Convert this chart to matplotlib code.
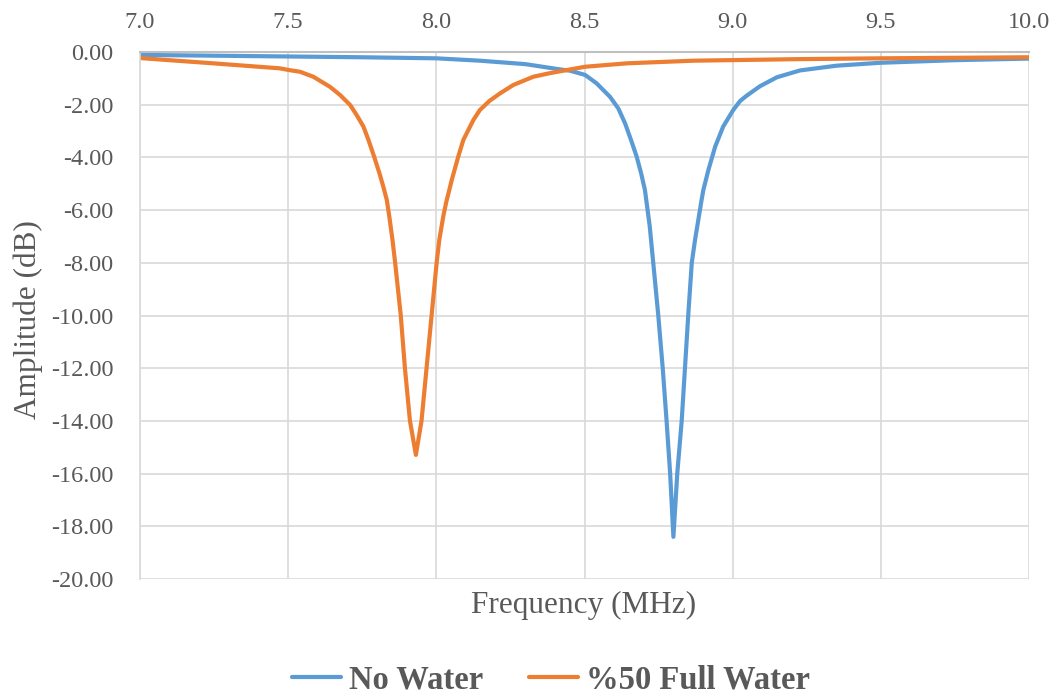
import matplotlib
matplotlib.use("Agg")
import matplotlib.pyplot as plt

# Frequency (MHz) and amplitude (dB)
no_water_freq = [7.00, 7.25, 7.50, 7.75, 8.00, 8.147, 8.30, 8.417, 8.451, 8.502, 8.541,
                 8.586, 8.614, 8.637, 8.657, 8.676, 8.691, 8.704, 8.720, 8.732, 8.749,
                 8.764, 8.777, 8.789, 8.800, 8.813, 8.828, 8.839, 8.850, 8.862, 8.873,
                 8.895, 8.901, 8.918, 8.941, 8.968, 9.002, 9.025, 9.047, 9.092, 9.149,
                 9.227, 9.35, 9.497, 9.75, 10.00]
no_water_amp = [-0.11, -0.14, -0.17, -0.20, -0.24, -0.33, -0.46, -0.66, -0.71, -0.87, -1.19,
                -1.70, -2.14, -2.71, -3.34, -3.97, -4.60, -5.24, -6.60, -8.00, -10.00,
                -12.00, -14.00, -16.00, -18.40, -16.00, -14.00, -12.00, -10.00, -8.00, -7.13,
                -5.62, -5.24, -4.48, -3.59, -2.83, -2.20, -1.86, -1.66, -1.30, -0.96,
                -0.70, -0.52, -0.41, -0.31, -0.25]

half_water_freq = [7.00, 7.247, 7.472, 7.50, 7.540, 7.585, 7.641, 7.675, 7.709, 7.731,
                   7.754, 7.771, 7.790, 7.808, 7.821, 7.833, 7.842, 7.852, 7.861, 7.880,
                   7.894, 7.911, 7.931, 7.950, 7.967, 7.984, 8.001, 8.010, 8.024, 8.035,
                   8.041, 8.052, 8.074, 8.091, 8.108, 8.125, 8.147, 8.18, 8.215, 8.26,
                   8.327, 8.38, 8.428, 8.502, 8.643, 8.867, 9.227, 9.497, 10.00]
half_water_amp = [-0.23, -0.43, -0.62, -0.68, -0.75, -0.94, -1.32, -1.63, -2.01, -2.39,
                  -2.83, -3.34, -3.97, -4.60, -5.11, -5.62, -6.30, -7.13, -8.00, -10.00,
                  -12.00, -14.00, -15.29, -14.00, -12.00, -10.00, -8.00, -7.13, -6.20, -5.62,
                  -5.36, -4.86, -3.97, -3.34, -2.96, -2.58, -2.20, -1.85, -1.57, -1.25,
                  -0.94, -0.81, -0.71, -0.56, -0.43, -0.33, -0.27, -0.24, -0.20]

x_ticks = [7.0, 7.5, 8.0, 8.5, 9.0, 9.5, 10.0]
y_ticks = [0, -2, -4, -6, -8, -10, -12, -14, -16, -18, -20]
series_names = ["No Water", "%50 Full Water"]

plt.rcParams['font.family'] = ['Liberation Serif', 'DejaVu Serif']
text_col = "#595959"

fig = plt.figure(figsize=(10.57, 6.95), dpi=100)
ax = fig.add_axes([140/1057, 1-579/695, (1029-140)/1057, (579-52)/695])

ax.plot(no_water_freq, no_water_amp, color="#5B9BD5", lw=3.0, label=series_names[0],
        solid_joinstyle="round", solid_capstyle="round")
ax.plot(half_water_freq, half_water_amp, color="#ED7D31", lw=3.0, label=series_names[1],
        solid_joinstyle="round", solid_capstyle="round")

ax.set_xlim(7.0, 10.0)
ax.set_ylim(-20, 0)
ax.set_xticks(x_ticks)
ax.set_xticklabels([f"{v:.1f}" for v in x_ticks])
ax.set_yticks(y_ticks)
ax.set_yticklabels([f"{v:.2f}" if v != 0 else "0.00" for v in y_ticks])
ax.xaxis.tick_top()
ax.tick_params(axis="both", length=0, labelsize=17.5, colors=text_col)
ax.tick_params(axis="x", pad=14)
ax.tick_params(axis="y", pad=19)

ax.grid(True, color="#d9d9d9", lw=1.2)
ax.set_axisbelow(True)
for s in ["right", "bottom"]:
    ax.spines[s].set_visible(False)
ax.spines["left"].set_color("#d9d9d9")
ax.spines["left"].set_linewidth(1.2)
ax.spines["top"].set_color("#bfbfbf")
ax.spines["top"].set_linewidth(1.5)

fig.text(28/1057, 1-320/695, "Amplitude (dB)", rotation=90, ha="center", va="center",
         fontsize=22.5, color=text_col)
fig.text(584/1057, 1-605/695, "Frequency (MHz)", ha="center", va="center",
         fontsize=22.5, color=text_col)

leg = fig.legend(loc="center", bbox_to_anchor=(551/1057, 1-680/695), ncol=2, frameon=False,
                 prop={"weight": "bold", "size": 23.5}, handlelength=1.5, columnspacing=1.4,
                 handletextpad=0.25)
for line in leg.get_lines():
    line.set_linewidth(3.0)
for t in leg.get_texts():
    t.set_color(text_col)

fig.savefig("out.png", dpi=100)
